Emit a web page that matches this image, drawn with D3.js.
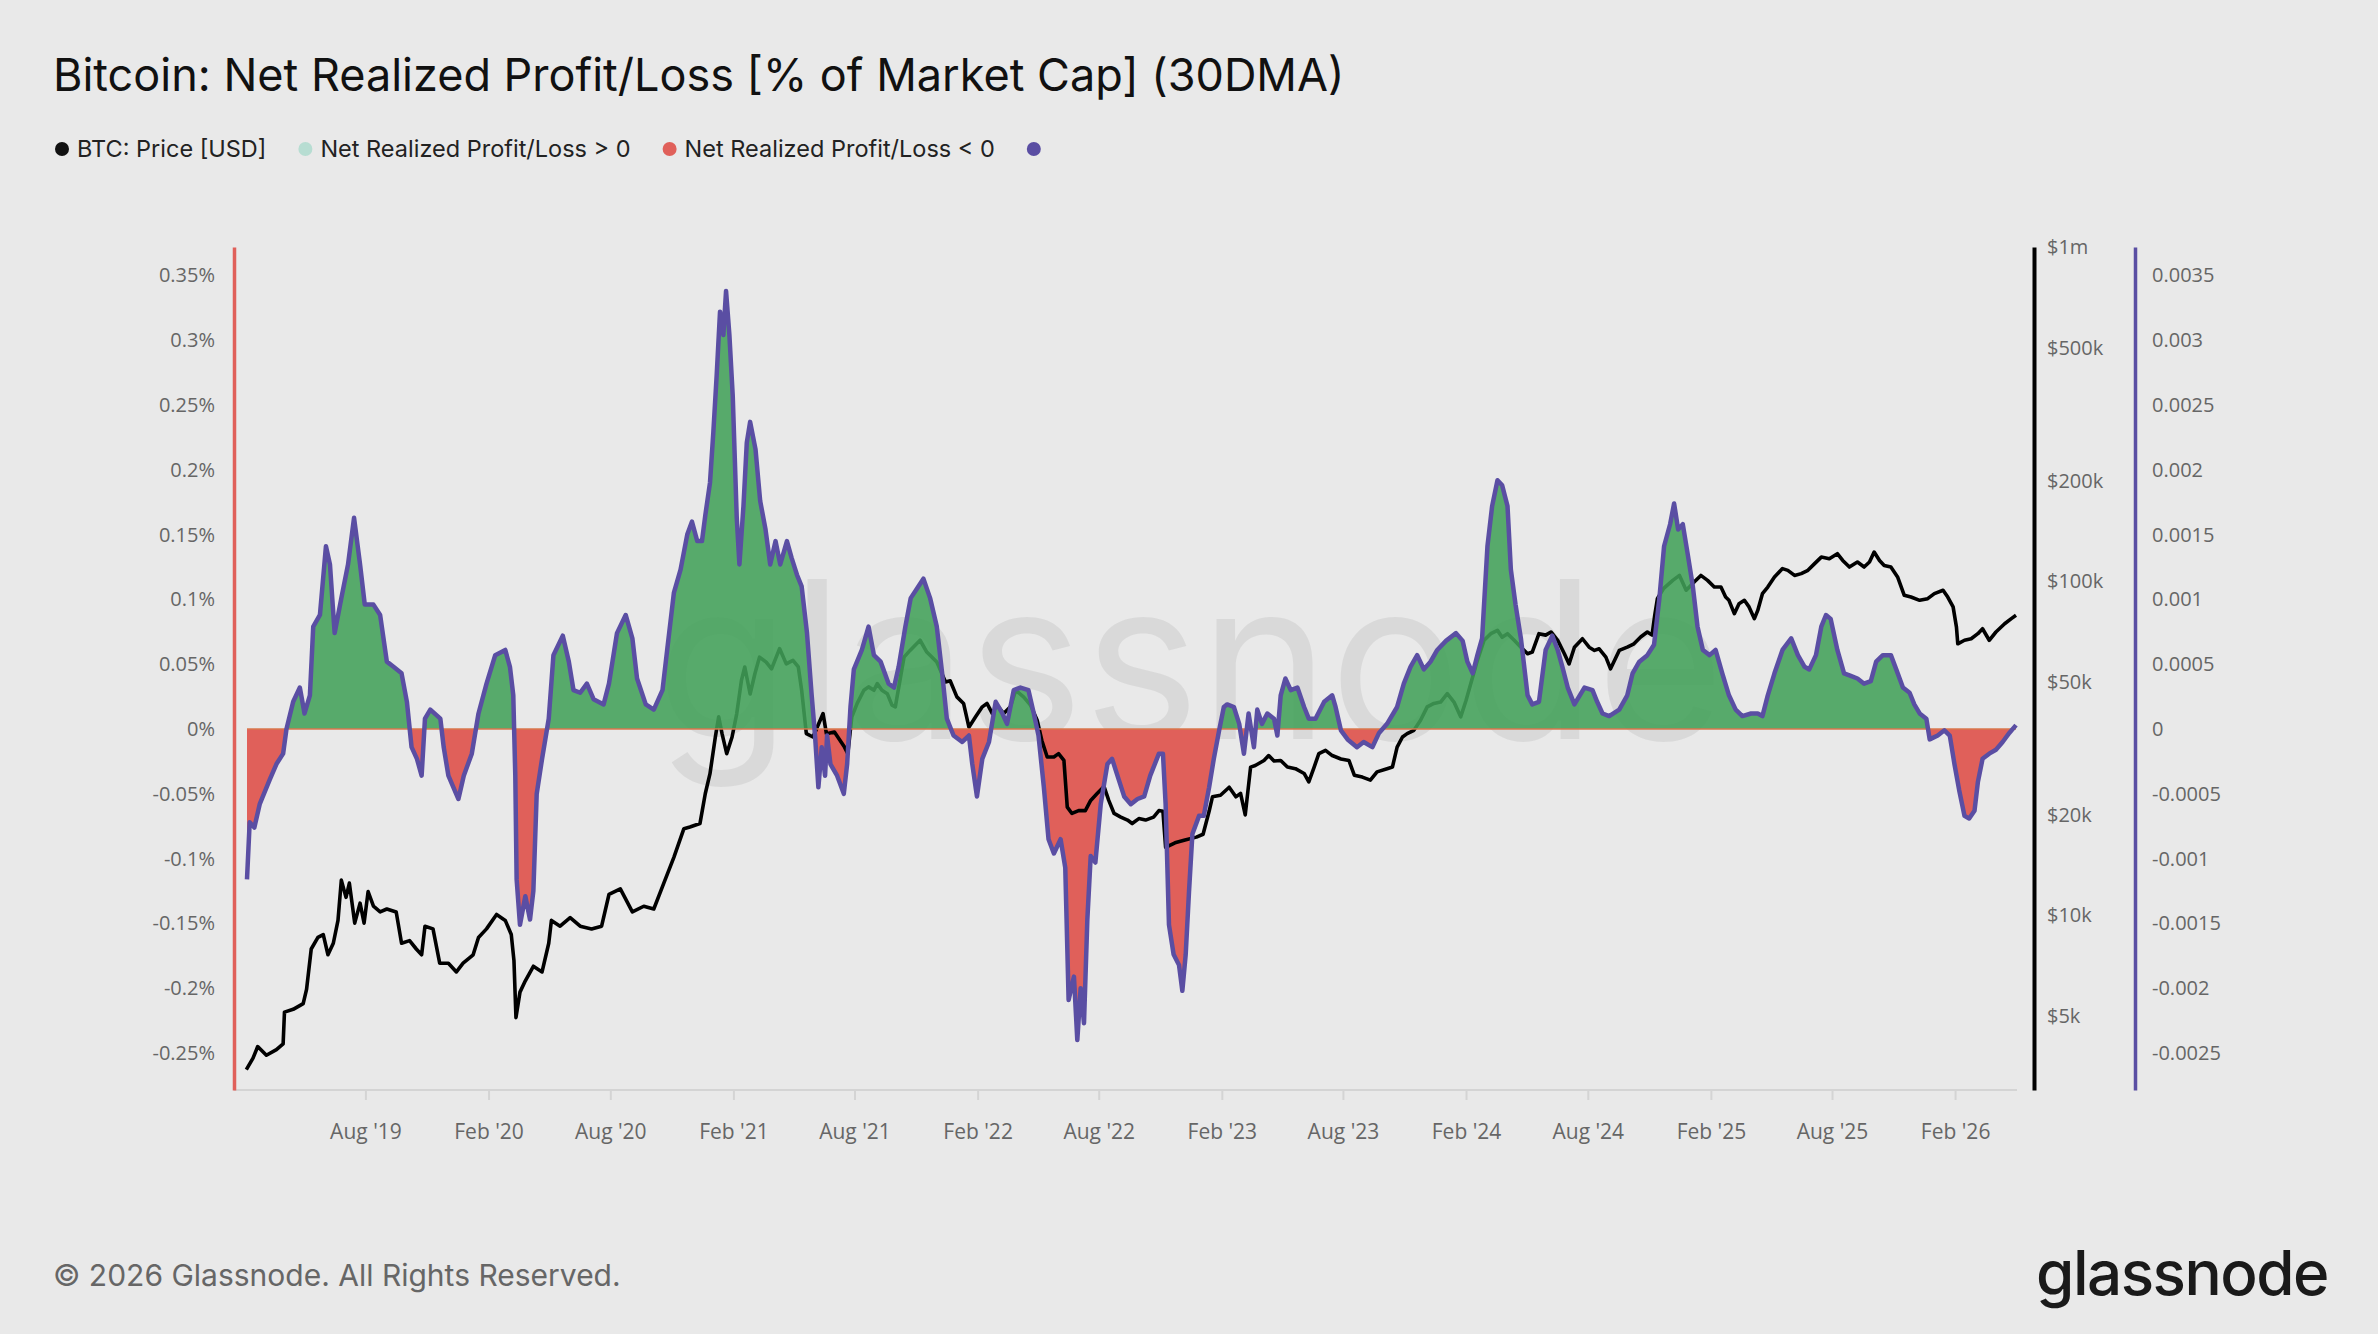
<!DOCTYPE html>
<html>
<head>
<meta charset="utf-8">
<script src="https://cdn.jsdelivr.net/npm/d3@7"></script>
<style>
  html, body { margin: 0; padding: 0; background: #e9e9e9; }
  svg { display: block; }
</style>
</head>
<body>
<div id="chart"></div>
<script>
// Net realized profit/loss, % of market cap (30DMA)
const nrplSeries = [
  ["2019-02-05",-0.116],["2019-02-09",-0.072],["2019-02-16",-0.076],["2019-02-24",-0.058],["2019-03-11",-0.039],
  ["2019-03-21",-0.027],["2019-03-31",-0.019],["2019-04-05",0.000],["2019-04-15",0.021],["2019-04-25",0.032],
  ["2019-05-02",0.012],["2019-05-10",0.026],["2019-05-15",0.079],["2019-05-25",0.088],["2019-06-03",0.141],
  ["2019-06-09",0.127],["2019-06-16",0.074],["2019-06-26",0.101],["2019-07-06",0.127],["2019-07-15",0.163],
  ["2019-07-24",0.127],["2019-07-31",0.096],["2019-08-13",0.096],["2019-08-23",0.088],["2019-09-02",0.052],
  ["2019-09-12",0.048],["2019-09-24",0.043],["2019-10-02",0.021],["2019-10-09",-0.014],["2019-10-17",-0.023],
  ["2019-10-24",-0.036],["2019-10-29",0.008],["2019-11-06",0.015],["2019-11-21",0.008],["2019-11-26",-0.014],
  ["2019-12-03",-0.036],["2019-12-18",-0.054],["2019-12-26",-0.036],
  ["2020-01-07",-0.019],["2020-01-17",0.012],["2020-01-29",0.035],["2020-02-11",0.057],["2020-02-26",0.061],
  ["2020-03-04",0.048],["2020-03-09",0.026],["2020-03-12",-0.036],["2020-03-14",-0.116],["2020-03-19",-0.151],
  ["2020-03-27",-0.129],["2020-04-03",-0.147],["2020-04-08",-0.125],["2020-04-13",-0.050],["2020-04-21",-0.023],
  ["2020-05-01",0.008],["2020-05-08",0.057],["2020-05-22",0.072],["2020-05-31",0.052],["2020-06-07",0.030],
  ["2020-06-17",0.028],["2020-06-27",0.035],["2020-07-07",0.023],["2020-07-22",0.019],["2020-07-30",0.035],
  ["2020-08-11",0.074],["2020-08-24",0.088],["2020-09-03",0.070],["2020-09-10",0.039],["2020-09-23",0.019],
  ["2020-10-05",0.015],["2020-10-18",0.030],["2020-10-25",0.061],["2020-11-04",0.105],["2020-11-14",0.123],
  ["2020-11-24",0.150],["2020-12-01",0.160],["2020-12-09",0.145],["2020-12-16",0.145],["2020-12-21",0.165],
  ["2020-12-28",0.190],
  ["2021-01-02",0.229],["2021-01-07",0.273],["2021-01-12",0.322],["2021-01-17",0.304],["2021-01-21",0.338],
  ["2021-01-26",0.304],["2021-01-31",0.257],["2021-02-06",0.163],["2021-02-10",0.127],["2021-02-16",0.172],
  ["2021-02-21",0.221],["2021-02-26",0.237],["2021-03-06",0.216],["2021-03-13",0.176],["2021-03-21",0.154],
  ["2021-03-28",0.127],["2021-04-05",0.145],["2021-04-12",0.127],["2021-04-22",0.145],["2021-04-29",0.132],
  ["2021-05-07",0.119],["2021-05-14",0.110],["2021-05-22",0.074],["2021-05-29",0.026],["2021-06-03",-0.005],
  ["2021-06-08",-0.045],["2021-06-13",-0.014],["2021-06-18",-0.036],["2021-06-21",-0.005],["2021-06-26",-0.027],
  ["2021-07-06",-0.036],["2021-07-16",-0.050],["2021-07-21",-0.027],["2021-07-26",0.017],["2021-07-31",0.046],
  ["2021-08-12",0.061],["2021-08-22",0.079],["2021-08-30",0.057],["2021-09-09",0.052],["2021-09-21",0.035],
  ["2021-09-29",0.032],["2021-10-06",0.048],["2021-10-16",0.079],["2021-10-24",0.101],["2021-11-02",0.108],
  ["2021-11-12",0.116],["2021-11-22",0.101],["2021-12-02",0.079],["2021-12-10",0.043],["2021-12-17",0.008],
  ["2021-12-27",-0.005],
  ["2022-01-09",-0.010],["2022-01-19",-0.005],["2022-01-24",-0.027],["2022-01-31",-0.052],["2022-02-08",-0.023],
  ["2022-02-18",-0.010],["2022-02-28",0.021],["2022-03-10",0.012],["2022-03-17",0.004],["2022-03-27",0.030],
  ["2022-04-06",0.032],["2022-04-18",0.030],["2022-04-26",0.012],["2022-05-03",-0.005],["2022-05-11",-0.045],
  ["2022-05-18",-0.085],["2022-05-26",-0.096],["2022-06-05",-0.085],["2022-06-12",-0.107],["2022-06-17",-0.209],
  ["2022-06-25",-0.191],["2022-06-30",-0.240],["2022-07-05",-0.200],["2022-07-10",-0.227],["2022-07-15",-0.147],
  ["2022-07-20",-0.098],["2022-07-27",-0.103],["2022-08-04",-0.058],["2022-08-14",-0.027],["2022-08-21",-0.023],
  ["2022-08-29",-0.036],["2022-09-08",-0.052],["2022-09-18",-0.058],["2022-09-28",-0.054],["2022-10-08",-0.052],
  ["2022-10-17",-0.036],["2022-10-30",-0.019],["2022-11-05",-0.019],["2022-11-09",-0.058],["2022-11-14",-0.151],
  ["2022-11-21",-0.174],["2022-11-29",-0.182],["2022-12-04",-0.202],["2022-12-09",-0.174],["2022-12-14",-0.125],
  ["2022-12-19",-0.081],["2022-12-29",-0.067],
  ["2023-01-05",-0.067],["2023-01-13",-0.045],["2023-01-20",-0.023],["2023-01-28",-0.001],["2023-02-04",0.017],
  ["2023-02-09",0.019],["2023-02-19",0.017],["2023-02-27",0.004],["2023-03-06",-0.019],["2023-03-13",0.012],
  ["2023-03-21",-0.014],["2023-03-26",0.015],["2023-04-02",0.004],["2023-04-10",0.012],["2023-04-20",0.008],
  ["2023-04-25",-0.005],["2023-04-30",0.026],["2023-05-07",0.039],["2023-05-15",0.030],["2023-05-25",0.032],
  ["2023-06-04",0.017],["2023-06-11",0.008],["2023-06-21",0.008],["2023-07-04",0.021],["2023-07-16",0.026],
  ["2023-07-21",0.017],["2023-07-29",-0.001],["2023-08-08",-0.008],["2023-08-22",-0.014],["2023-09-01",-0.010],
  ["2023-09-14",-0.014],["2023-09-24",-0.003],["2023-10-06",0.004],["2023-10-21",0.017],["2023-10-31",0.035],
  ["2023-11-10",0.048],["2023-11-20",0.057],["2023-11-30",0.046],["2023-12-10",0.052],["2023-12-20",0.061],
  ["2024-01-02",0.068],["2024-01-17",0.074],["2024-01-27",0.068],["2024-02-03",0.052],["2024-02-11",0.043],
  ["2024-02-18",0.057],["2024-02-25",0.070],["2024-03-04",0.141],["2024-03-11",0.172],["2024-03-19",0.192],
  ["2024-03-26",0.188],["2024-04-03",0.172],["2024-04-08",0.123],["2024-04-15",0.096],["2024-04-23",0.070],
  ["2024-05-03",0.026],["2024-05-10",0.019],["2024-05-20",0.021],["2024-05-30",0.061],["2024-06-09",0.072],
  ["2024-06-17",0.061],["2024-06-24",0.048],["2024-07-02",0.032],["2024-07-12",0.019],["2024-07-27",0.032],
  ["2024-08-08",0.030],["2024-08-15",0.021],["2024-08-23",0.012],["2024-09-02",0.010],["2024-09-17",0.015],
  ["2024-09-29",0.026],["2024-10-07",0.043],["2024-10-17",0.052],["2024-10-29",0.057],["2024-11-08",0.065],
  ["2024-11-16",0.101],["2024-11-23",0.141],["2024-12-02",0.158],["2024-12-08",0.174],["2024-12-14",0.154],
  ["2024-12-21",0.158],["2024-12-28",0.136],
  ["2025-01-05",0.110],["2025-01-12",0.079],["2025-01-20",0.061],["2025-01-30",0.057],["2025-02-08",0.061],
  ["2025-02-18",0.043],["2025-02-28",0.026],["2025-03-10",0.015],["2025-03-20",0.010],["2025-04-02",0.012],
  ["2025-04-12",0.012],["2025-04-19",0.010],["2025-04-27",0.026],["2025-05-07",0.043],["2025-05-19",0.061],
  ["2025-06-01",0.070],["2025-06-11",0.057],["2025-06-21",0.048],["2025-06-28",0.046],["2025-07-08",0.057],
  ["2025-07-16",0.079],["2025-07-23",0.088],["2025-07-30",0.085],["2025-08-09",0.061],["2025-08-19",0.043],
  ["2025-08-29",0.041],["2025-09-08",0.039],["2025-09-18",0.035],["2025-09-28",0.037],["2025-10-06",0.052],
  ["2025-10-16",0.057],["2025-10-28",0.057],["2025-11-05",0.046],["2025-11-15",0.032],["2025-11-25",0.028],
  ["2025-12-02",0.019],["2025-12-10",0.012],["2025-12-20",0.008],["2025-12-25",-0.008],
  ["2026-01-06",-0.005],["2026-01-16",-0.001],["2026-01-24",-0.005],["2026-01-31",-0.027],["2026-02-07",-0.047],
  ["2026-02-15",-0.067],["2026-02-22",-0.069],["2026-03-02",-0.063],["2026-03-07",-0.041],["2026-03-14",-0.023],
  ["2026-03-24",-0.019],["2026-04-03",-0.016],["2026-04-13",-0.010],["2026-04-23",-0.003],["2026-05-03",0.003]
];

// BTC price in USD
const priceSeries = [
  ["2019-02-04",3460],["2019-02-14",3745],["2019-02-21",4055],["2019-03-06",3820],["2019-03-21",3970],
  ["2019-03-31",4130],["2019-04-02",5140],["2019-04-15",5240],["2019-04-30",5450],["2019-05-05",6010],
  ["2019-05-12",7940],["2019-05-22",8600],["2019-05-30",8770],["2019-06-06",7630],["2019-06-14",8260],
  ["2019-06-21",9670],["2019-06-26",12760],["2019-07-03",11330],["2019-07-08",12500],["2019-07-16",9490],
  ["2019-07-24",10890],["2019-07-30",9490],["2019-08-05",11790],["2019-08-13",10660],["2019-08-23",10250],
  ["2019-09-02",10460],["2019-09-16",10250],["2019-09-24",8260],["2019-10-06",8410],["2019-10-16",7940],
  ["2019-10-24",7630],["2019-10-29",9290],["2019-11-10",9120],["2019-11-20",7200],["2019-12-03",7200],
  ["2019-12-15",6780],["2019-12-25",7200],
  ["2020-01-09",7630],["2020-01-17",8600],["2020-01-29",9120],["2020-02-13",10070],["2020-02-26",9670],
  ["2020-03-06",8770],["2020-03-10",7330],["2020-03-13",4950],["2020-03-19",5900],["2020-03-27",6380],
  ["2020-04-08",7050],["2020-04-21",6780],["2020-05-01",8260],["2020-05-05",9670],["2020-05-18",9290],
  ["2020-06-02",9860],["2020-06-17",9290],["2020-07-04",9120],["2020-07-19",9290],["2020-07-30",11560],
  ["2020-08-16",12020],["2020-09-03",10250],["2020-09-20",10660],["2020-10-05",10460],["2020-10-20",12500],
  ["2020-11-04",14930],["2020-11-19",18190],["2020-11-28",18400],["2020-12-13",18840],["2020-12-21",23180],
  ["2020-12-28",26570],
  ["2021-01-05",34200],["2021-01-10",39300],["2021-01-15",35000],["2021-01-22",30500],["2021-01-30",34200],
  ["2021-02-06",40200],["2021-02-13",50500],["2021-02-18",55400],["2021-02-26",46000],["2021-03-05",52800],
  ["2021-03-12",59300],["2021-03-22",57300],["2021-03-30",54700],["2021-04-11",62900],["2021-04-21",56600],
  ["2021-05-01",58000],["2021-05-09",55400],["2021-05-14",47200],["2021-05-21",35000],["2021-05-31",34200],
  ["2021-06-15",40200],["2021-06-20",35000],["2021-07-02",35400],["2021-07-17",31900],["2021-07-22",30500],
  ["2021-07-28",39300],["2021-08-05",43100],["2021-08-15",47200],["2021-08-22",48300],["2021-08-30",47200],
  ["2021-09-04",49400],["2021-09-11",47200],["2021-09-19",46100],["2021-09-26",42600],["2021-10-01",42100],
  ["2021-10-14",59300],["2021-10-23",62100],["2021-11-07",66600],["2021-11-17",61400],["2021-12-02",57300],
  ["2021-12-15",50000],["2021-12-22",50400],
  ["2022-01-01",45100],["2022-01-11",43100],["2022-01-19",36600],["2022-01-29",39300],["2022-02-08",42100],
  ["2022-02-15",43100],["2022-02-23",40200],["2022-03-02",42600],["2022-03-12",40200],["2022-03-22",42100],
  ["2022-03-30",47200],["2022-04-11",45000],["2022-04-21",42600],["2022-05-01",38400],["2022-05-08",33400],
  ["2022-05-16",29800],["2022-05-26",29800],["2022-06-02",30500],["2022-06-10",29100],["2022-06-15",21100],
  ["2022-06-22",20200],["2022-07-02",20600],["2022-07-12",20600],["2022-07-20",22100],["2022-07-30",23200],
  ["2022-08-09",24300],["2022-08-16",22100],["2022-08-24",20200],["2022-09-03",19700],["2022-09-13",19300],
  ["2022-09-20",18840],["2022-09-30",19500],["2022-10-10",19300],["2022-10-22",19700],["2022-10-30",20600],
  ["2022-11-05",20500],["2022-11-09",16000],["2022-11-23",16500],["2022-12-08",16830],["2022-12-25",17160],
  ["2023-01-04",17500],["2023-01-13",20500],["2023-01-18",22650],["2023-01-30",22900],["2023-02-12",24200],
  ["2023-02-22",22650],["2023-03-01",23200],["2023-03-08",20000],["2023-03-16",27800],["2023-03-23",28100],
  ["2023-04-05",29100],["2023-04-12",30100],["2023-04-20",29000],["2023-04-30",29100],["2023-05-10",27800],
  ["2023-05-22",27500],["2023-06-04",26600],["2023-06-11",25100],["2023-06-19",27800],["2023-06-26",30500],
  ["2023-07-06",31200],["2023-07-16",30100],["2023-07-29",29400],["2023-08-10",29100],["2023-08-18",26300],
  ["2023-08-30",25950],["2023-09-11",25400],["2023-09-21",26900],["2023-10-06",27500],["2023-10-14",27800],
  ["2023-10-21",31900],["2023-10-29",34200],["2023-11-05",35000],["2023-11-15",35800],["2023-11-25",38400],
  ["2023-12-05",42100],["2023-12-15",43100],["2023-12-25",43500],
  ["2024-01-04",46100],["2024-01-14",43500],["2024-01-24",39300],["2024-02-01",44000],["2024-02-11",51800],
  ["2024-02-18",58000],["2024-02-28",66600],["2024-03-09",69700],["2024-03-19",71300],["2024-03-26",68000],
  ["2024-04-03",69700],["2024-04-13",66600],["2024-04-23",63500],["2024-05-03",60700],["2024-05-10",61400],
  ["2024-05-20",69700],["2024-05-30",69000],["2024-06-07",70500],["2024-06-17",66600],["2024-06-27",60700],
  ["2024-07-04",56600],["2024-07-12",63500],["2024-07-24",67300],["2024-08-03",63500],["2024-08-11",62100],
  ["2024-08-18",62800],["2024-08-28",59300],["2024-09-04",54700],["2024-09-17",62100],["2024-09-29",63500],
  ["2024-10-09",65000],["2024-10-19",68100],["2024-10-29",70500],["2024-11-05",69000],["2024-11-09",79000],
  ["2024-11-13",88700],["2024-11-22",95000],["2024-12-06",100600],["2024-12-16",104100],["2024-12-26",94000],
  ["2025-01-07",99500],["2025-01-17",104100],["2025-01-27",100600],["2025-02-06",96100],["2025-02-16",96100],
  ["2025-02-23",89700],["2025-02-28",87700],["2025-03-08",80000],["2025-03-15",85700],["2025-03-23",87700],
  ["2025-03-30",83800],["2025-04-07",77300],["2025-04-12",81800],["2025-04-19",91800],["2025-04-27",96100],
  ["2025-05-07",103000],["2025-05-19",109100],["2025-05-27",107800],["2025-06-06",104100],["2025-06-16",105400],
  ["2025-06-26",107800],["2025-07-06",112900],["2025-07-16",118100],["2025-07-28",116800],["2025-08-09",120900],
  ["2025-08-17",115400],["2025-08-27",110300],["2025-09-08",114200],["2025-09-18",110300],["2025-09-26",114200],
  ["2025-10-03",122300],["2025-10-11",115400],["2025-10-18",111500],["2025-10-28",110300],["2025-11-07",103000],
  ["2025-11-17",90800],["2025-11-27",89700],["2025-12-10",87700],["2025-12-22",88700],
  ["2026-01-01",91800],["2026-01-14",94000],["2026-01-21",89700],["2026-01-29",83800],["2026-02-03",72900],
  ["2026-02-05",65000],["2026-02-15",66600],["2026-02-25",67300],["2026-03-07",69700],["2026-03-14",72100],
  ["2026-03-24",66600],["2026-04-03",70500],["2026-04-16",74600],["2026-04-26",77300],["2026-05-03",79100]
];

const leftTicks = [0.35, 0.3, 0.25, 0.2, 0.15, 0.1, 0.05, 0, -0.05, -0.1, -0.15, -0.2, -0.25];
const leftTickLabels = ["0.35%","0.3%","0.25%","0.2%","0.15%","0.1%","0.05%","0%","-0.05%","-0.1%","-0.15%","-0.2%","-0.25%"];
const rightTickLabels = ["0.0035","0.003","0.0025","0.002","0.0015","0.001","0.0005","0","-0.0005","-0.001","-0.0015","-0.002","-0.0025"];
const priceTicks = [1000000, 500000, 200000, 100000, 50000, 20000, 10000, 5000];
const priceTickLabels = ["$1m","$500k","$200k","$100k","$50k","$20k","$10k","$5k"];
const monthTicks = ["2019-08-01","2020-02-01","2020-08-01","2021-02-01","2021-08-01","2022-02-01","2022-08-01",
  "2023-02-01","2023-08-01","2024-02-01","2024-08-01","2025-02-01","2025-08-01","2026-02-01"];
const monthTickLabels = ["Aug '19","Feb '20","Aug '20","Feb '21","Aug '21","Feb '22","Aug '22",
  "Feb '23","Aug '23","Feb '24","Aug '24","Feb '25","Aug '25","Feb '26"];
const legendItems = [
  {name: "BTC: Price [USD]", color: "#111111"},
  {name: "Net Realized Profit/Loss > 0", color: "#b7ddd2"},
  {name: "Net Realized Profit/Loss < 0", color: "#e0605a"},
  {name: "", color: "#5a4ea3"}
];

const W = 2378, H = 1334;
const plotTop = 247, plotBottom = 1090;
const parse = d3.utcParse("%Y-%m-%d");
const nrpl = nrplSeries.map(d => ({date: parse(d[0]), v: d[1]}));
const price = priceSeries.map(d => ({date: parse(d[0]), p: d[1]}));

const svg = d3.select("#chart").append("svg")
  .attr("width", W).attr("height", H)
  .style("background", "#e9e9e9");

// title + legend
svg.append("text")
  .attr("x", 53).attr("y", 91)
  .attr("font-family", "Inter, 'Noto Sans', sans-serif")
  .attr("font-size", 45)
  .attr("fill", "#111")
  .text("Bitcoin: Net Realized Profit/Loss [% of Market Cap] (30DMA)");

const legend = svg.append("g").attr("transform", "translate(62,149)");
let lx = 0;
legendItems.forEach(item => {
  legend.append("circle").attr("cx", lx).attr("cy", 0).attr("r", 7).attr("fill", item.color);
  if (item.name) {
    const t = legend.append("text")
      .attr("x", lx + 15).attr("y", 8)
      .attr("font-family", "Inter, 'Noto Sans', sans-serif")
      .attr("font-size", 23.5)
      .attr("fill", "#222")
      .text(item.name);
    lx += 15 + t.node().getComputedTextLength() + 39;
  }
});

// scales
const x = d3.scaleUtc()
  .domain(d3.extent(nrpl, d => d.date))
  .range([247, 2016]);
const y = d3.scaleLinear()
  .domain([-0.2785, 0.3719])
  .range([plotBottom, plotTop]);
const yPrice = d3.scaleLog()
  .domain([3006, 1000000])
  .range([plotBottom, plotTop]);

// watermark
svg.append("text")
  .attr("x", 1190).attr("y", 739)
  .attr("text-anchor", "middle")
  .attr("font-family", "Inter, 'Noto Sans', sans-serif")
  .attr("font-size", 220)
  .attr("fill", "#000")
  .attr("fill-opacity", 0.065)
  .text("glassnode");

// clip regions above / below zero
const defs = svg.append("defs");
defs.append("clipPath").attr("id", "above")
  .append("rect").attr("x", 0).attr("y", 0).attr("width", W).attr("height", y(0));
defs.append("clipPath").attr("id", "below")
  .append("rect").attr("x", 0).attr("y", y(0)).attr("width", W).attr("height", H - y(0));

const area = d3.area()
  .x(d => x(d.date))
  .y0(y(0))
  .y1(d => y(d.v));

svg.append("path")
  .datum(nrpl)
  .attr("clip-path", "url(#below)")
  .attr("fill", "#e0605a")
  .attr("d", area);

// price line
const priceLine = d3.line()
  .x(d => x(d.date))
  .y(d => yPrice(d.p));
svg.append("path")
  .datum(price)
  .attr("fill", "none")
  .attr("stroke", "#000")
  .attr("stroke-width", 3.6)
  .attr("stroke-linejoin", "round")
  .attr("d", priceLine);

svg.append("path")
  .datum(nrpl)
  .attr("clip-path", "url(#above)")
  .attr("fill", "rgb(65,161,88)")
  .attr("fill-opacity", 0.87)
  .attr("d", area);

// zero baseline
svg.append("line")
  .attr("x1", x(nrpl[0].date)).attr("x2", x(nrpl[nrpl.length - 1].date))
  .attr("y1", y(0)).attr("y2", y(0))
  .attr("stroke", "#d9774c").attr("stroke-width", 1.5);

// nrpl line
const nrplLine = d3.line()
  .x(d => x(d.date))
  .y(d => y(d.v));
svg.append("path")
  .datum(nrpl)
  .attr("fill", "none")
  .attr("stroke", "#5a4ea3")
  .attr("stroke-width", 4.5)
  .attr("stroke-linejoin", "round")
  .attr("d", nrplLine);

// axes
const tickFont = "'Open Sans', 'Noto Sans', sans-serif";

const xAxis = svg.append("g")
  .attr("transform", "translate(0," + plotBottom + ")")
  .call(d3.axisBottom(x)
    .tickValues(monthTicks.map(parse))
    .tickFormat((d, i) => monthTickLabels[i])
    .tickSize(10).tickSizeOuter(0).tickPadding(24));
xAxis.select(".domain").remove();
xAxis.selectAll(".tick line").attr("stroke", "#d4d4d4").attr("stroke-width", 2);
xAxis.selectAll("text").attr("font-family", tickFont).attr("font-size", 21).attr("fill", "#666");
svg.append("line")
  .attr("x1", 234).attr("x2", 2017)
  .attr("y1", plotBottom).attr("y2", plotBottom)
  .attr("stroke", "#d4d4d4").attr("stroke-width", 2);

const leftAxis = svg.append("g")
  .attr("transform", "translate(234,0)")
  .call(d3.axisLeft(y)
    .tickValues(leftTicks)
    .tickFormat((d, i) => leftTickLabels[i])
    .tickSize(0).tickPadding(19));
leftAxis.select(".domain").attr("stroke", "#e0605a").attr("stroke-width", 3.5);
leftAxis.selectAll("text").attr("font-family", tickFont).attr("font-size", 20).attr("fill", "#666");

const priceAxis = svg.append("g")
  .attr("transform", "translate(2034,0)")
  .call(d3.axisRight(yPrice)
    .tickValues(priceTicks)
    .tickFormat((d, i) => priceTickLabels[i])
    .tickSize(0).tickPadding(13));
priceAxis.select(".domain").attr("stroke", "#000").attr("stroke-width", 4);
priceAxis.selectAll("text").attr("font-family", tickFont).attr("font-size", 20).attr("fill", "#666");

const rightAxis = svg.append("g")
  .attr("transform", "translate(2135,0)")
  .call(d3.axisRight(y)
    .tickValues(leftTicks)
    .tickFormat((d, i) => rightTickLabels[i])
    .tickSize(0).tickPadding(17));
rightAxis.select(".domain").attr("stroke", "#5a4ea3").attr("stroke-width", 3.5);
rightAxis.selectAll("text").attr("font-family", tickFont).attr("font-size", 20).attr("fill", "#666");

// footer
svg.append("text")
  .attr("x", 53).attr("y", 1286)
  .attr("font-family", "Inter, 'Noto Sans', sans-serif")
  .attr("font-size", 30)
  .attr("fill", "#666")
  .text("© 2026 Glassnode. All Rights Reserved.");

svg.append("text")
  .attr("x", 2328).attr("y", 1295)
  .attr("text-anchor", "end")
  .attr("font-family", "Inter, 'Noto Sans', sans-serif")
  .attr("font-size", 62)
  .attr("font-weight", 500)
  .attr("letter-spacing", -1.5)
  .attr("fill", "#1a1a1a")
  .text("glassnode");
</script>
</body>
</html>
